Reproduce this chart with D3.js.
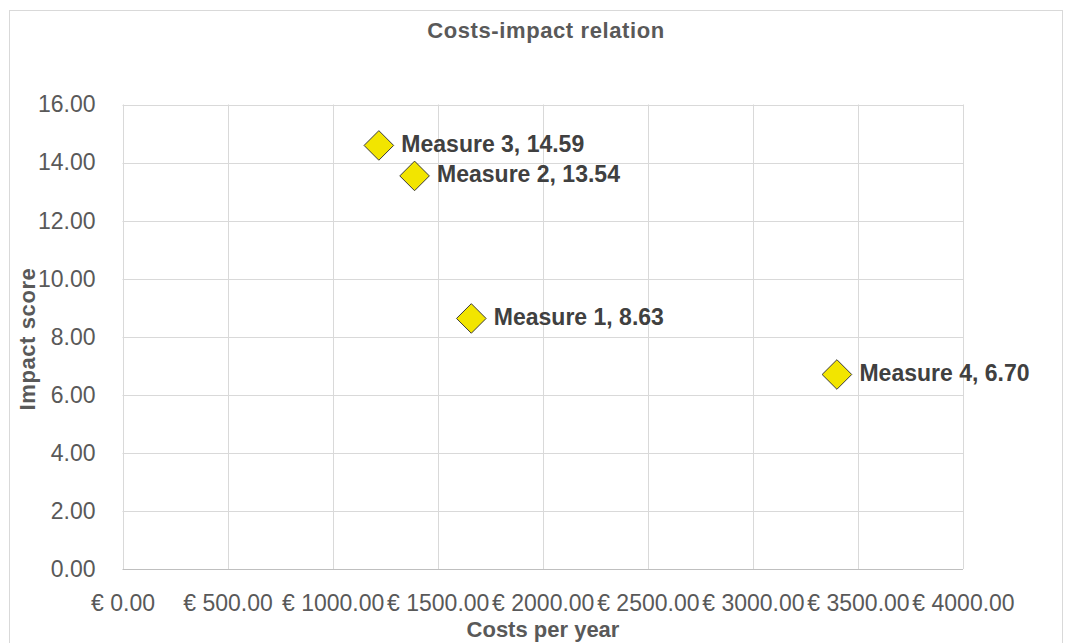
<!DOCTYPE html>
<html>
<head>
<meta charset="utf-8">
<script src="https://cdn.jsdelivr.net/npm/d3@7/dist/d3.min.js"></script>
<style>
  html, body { margin: 0; padding: 0; background: #ffffff; }
  svg { display: block; font-family: "Liberation Sans", Arial, sans-serif; }
</style>
</head>
<body>
<svg id="chart" width="1073" height="643"></svg>
<script>
// Measures: yearly cost (EUR) and resulting impact score
const measures = ["Measure 1", "Measure 2", "Measure 3", "Measure 4"];
const costs = [1660, 1390, 1220, 3400];
const impacts = [8.63, 13.54, 14.59, 6.70];

const xTicks = [0, 500, 1000, 1500, 2000, 2500, 3000, 3500, 4000];
const yTicks = [0, 2, 4, 6, 8, 10, 12, 14, 16];

const chartTitle = "Costs-impact relation";
const xTitle = "Costs per year";
const yTitle = "Impact score";

const svg = d3.select("#chart");
const plot = { left: 122.5, right: 963, top: 104.5, bottom: 569 };

// Chart frame
svg.append("rect")
  .attr("x", 9.5).attr("y", 10.5)
  .attr("width", 1053).attr("height", 660)
  .attr("fill", "#ffffff")
  .attr("stroke", "#d9d9d9").attr("stroke-width", 1);

const x = d3.scaleLinear().domain([0, 4000]).range([plot.left, plot.right]);
const y = d3.scaleLinear().domain([0, 16]).range([plot.bottom, plot.top]);

// Gridlines
const grid = svg.append("g");
grid.selectAll("line.v").data(xTicks).join("line")
  .attr("class", "v")
  .attr("x1", d => Math.round(x(d)) + 0.5).attr("x2", d => Math.round(x(d)) + 0.5)
  .attr("y1", plot.top).attr("y2", plot.bottom)
  .attr("stroke", "#d9d9d9").attr("stroke-width", 1);
grid.selectAll("line.h").data(yTicks).join("line")
  .attr("class", "h")
  .attr("x1", plot.left).attr("x2", plot.right)
  .attr("y1", d => Math.round(y(d)) + 0.5).attr("y2", d => Math.round(y(d)) + 0.5)
  .attr("stroke", d => d === 0 ? "#bfbfbf" : "#d9d9d9").attr("stroke-width", 1);

// Y axis tick labels
const yAxis = d3.axisLeft(y).tickValues(yTicks).tickFormat(d3.format(".2f")).tickSize(0).tickPadding(27);
const gy = svg.append("g").attr("transform", `translate(${plot.left},0)`).call(yAxis);
gy.select(".domain").remove();
gy.selectAll("text")
  .attr("font-size", 23).attr("fill", "#595959")
  .attr("font-family", "Liberation Sans, Arial, sans-serif");

// X axis tick labels
const euro = d => "€ " + d3.format(".2f")(d);
const xAxis = d3.axisBottom(x).tickValues(xTicks).tickFormat(euro).tickSize(0).tickPadding(26);
const gx = svg.append("g").attr("transform", `translate(0,${plot.bottom})`).call(xAxis);
gx.select(".domain").remove();
gx.selectAll("text")
  .attr("font-size", 23).attr("fill", "#595959")
  .attr("font-family", "Liberation Sans, Arial, sans-serif");

// Titles
svg.append("text")
  .attr("x", 546).attr("y", 38)
  .attr("text-anchor", "middle")
  .attr("font-size", 22).attr("font-weight", "bold").attr("fill", "#595959")
  .attr("letter-spacing", 0.6)
  .text(chartTitle);

svg.append("text")
  .attr("x", 543).attr("y", 637)
  .attr("text-anchor", "middle")
  .attr("font-size", 22).attr("font-weight", "bold").attr("fill", "#595959")
  .text(xTitle);

svg.append("text")
  .attr("transform", `translate(35,339) rotate(-90)`)
  .attr("text-anchor", "middle")
  .attr("font-size", 22).attr("font-weight", "bold").attr("fill", "#595959")
  .attr("letter-spacing", 0.6)
  .text(yTitle);

// Points
const data = measures.map((m, i) => ({ name: m, cost: costs[i], impact: impacts[i] }));
const halfDiag = 14.8;
const diamond = d3.symbol().type(d3.symbolDiamond2).size(Math.pow(halfDiag / 0.62625, 2));

const pts = svg.append("g").selectAll("g").data(data).join("g")
  .attr("transform", d => `translate(${x(d.cost)},${y(d.impact)})`);

pts.append("path")
  .attr("d", diamond)
  .attr("fill", "#f2e500")
  .attr("stroke", "#3a3a3a").attr("stroke-width", 1);

pts.append("text")
  .attr("x", 22.5).attr("y", 6.5)
  .attr("font-size", 23).attr("font-weight", "bold").attr("fill", "#404040")
  .text(d => `${d.name}, ${d3.format(".2f")(d.impact)}`);
</script>
</body>
</html>
